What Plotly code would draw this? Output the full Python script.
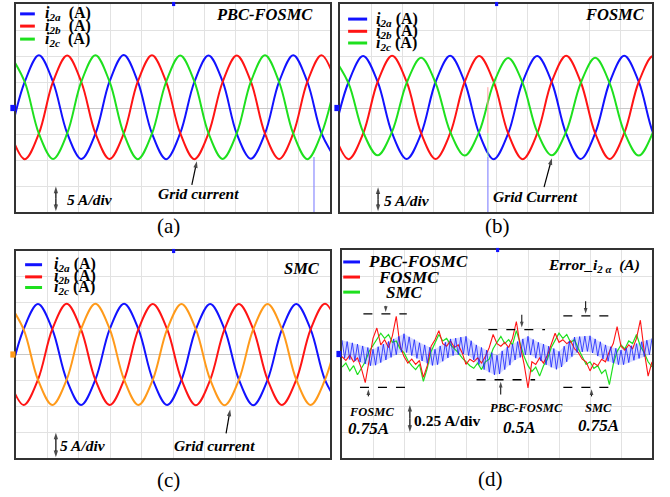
import numpy as np
import plotly.graph_objects as go

FONT = "Liberation Serif, Times New Roman, serif"
BLUE = "#1212ff"
RED = "#ff1414"
GREEN = "#1ee01e"
ORANGE = "#ff9a1a"

# ---------------- data (units: screen divisions) ----------------
# (a) PBC-FOSMC grid currents, 5 A/div
a_t_start, a_t_step = -0.17, 0.45
a_i2a = [-0.98, 1.01, 2.03, 1.00, -0.97, -1.96, -0.99, 1.02, 2.04, 1.01, -0.98, -1.97,
         -0.97, 1.00, 2.02, 1.02, -0.99, -1.95, -0.98, 1.01, 2.03, 1.00, -0.98, -1.96]
a_i2b = [-0.99, -1.97, -0.98, 1.01, 2.02, 1.00, -0.98, -1.96, -0.99, 1.02, 2.03, 1.01,
         -0.97, -1.97, -0.98, 1.00, 2.02, 1.01, -0.99, -1.96, -0.98, 1.01, 2.03, 1.00]
a_i2c = [2.02, 1.00, -0.99, -1.96, -0.98, 1.01, 2.03, 1.01, -0.98, -1.97, -0.99, 1.00,
         2.02, 1.02, -0.97, -1.96, -0.98, 1.01, 2.03, 1.00, -0.99, -1.97, -0.98, 1.01]

# (b) FOSMC grid currents, 5 A/div
b_t_start, b_t_step = -0.19, 0.465
b_i2a = [-0.98, 1.00, 2.00, 1.01, -0.97, -1.96, -0.99, 1.00, 2.01, 1.00, -0.98, -1.97,
         -0.98, 1.01, 2.00, 1.00, -0.99, -1.96, -0.97, 1.00, 2.01, 1.01, -0.98, -1.97]
b_i2b = [-0.98, -1.97, -0.99, 1.00, 2.01, 1.01, -0.97, -1.96, -0.98, 1.00, 2.00, 1.01,
         -0.98, -1.97, -0.99, 1.01, 2.01, 1.00, -0.98, -1.96, -0.97, 1.00, 2.00, 1.01]
b_i2c = [1.92, 0.95, -0.92, -1.82, -0.91, 0.96, 1.93, 0.96, -0.91, -1.83, -0.92, 0.95,
         1.92, 0.96, -0.92, -1.82, -0.91, 0.96, 1.93, 0.95, -0.92, -1.83, -0.91, 0.96]

# (c) SMC grid currents, 5 A/div
c_t_start, c_t_step = -0.214, 0.457
c_i2a = [-0.97, 0.98, 1.95, 0.97, -0.98, -1.95, -0.97, 0.98, 1.96, 0.98, -0.97, -1.95,
         -0.98, 0.97, 1.95, 0.98, -0.97, -1.96, -0.98, 0.97, 1.95, 0.97, -0.98, -1.95]
c_i2b = [-0.98, -1.95, -0.97, 0.98, 1.96, 0.97, -0.98, -1.95, -0.97, 0.98, 1.95, 0.98,
         -0.97, -1.96, -0.98, 0.97, 1.95, 0.98, -0.97, -1.95, -0.98, 0.97, 1.96, 0.98]
c_i2c = [1.95, 0.97, -0.98, -1.95, -0.97, 0.98, 1.96, 0.98, -0.97, -1.95, -0.98, 0.97,
         1.95, 0.98, -0.97, -1.96, -0.98, 0.97, 1.95, 0.98, -0.97, -1.95, -0.98, 0.97]

# (d) current error i2alpha, 0.25 A/div
d_blue_err = [0.53, -0.16, 0.48, -0.21, 0.43, -0.26, 0.38, -0.31, 0.31, -0.38, 0.25, -0.45,
              0.18, -0.43, 0.28, -0.33, 0.38, -0.23, 0.48, -0.13, 0.58, -0.03, 0.68, 0.07,
              0.78, 0.06, 0.66, -0.06, 0.55, -0.17, 0.43, -0.27, 0.35, -0.36, 0.26, -0.44,
              0.18, -0.41, 0.31, -0.28, 0.45, -0.15, 0.58, -0.06, 0.61, -0.03, 0.65, 0.00,
              0.68, -0.06, 0.51, -0.23, 0.35, -0.40, 0.25, -0.60, 0.15, -0.70, 0.05, -0.80,
              -0.05, -0.77, 0.12, -0.60, 0.28, -0.43, 0.38, -0.23, 0.48, -0.13, 0.58, -0.03,
              0.68, -0.04, 0.56, -0.16, 0.45, -0.27, 0.38, -0.42, 0.30, -0.51, 0.21, -0.59,
              0.10, -0.50, 0.30, -0.30, 0.50, -0.10, 0.65, 0.06, 0.67, 0.08, 0.69, 0.10,
              0.70, 0.04, 0.58, -0.08, 0.47, -0.19, 0.35, -0.28, 0.28, -0.35, 0.22, -0.41,
              0.15, -0.41, 0.23, -0.33, 0.32, -0.24, 0.40, -0.17, 0.47, -0.10, 0.53, -0.03,
              0.60]
d_red_err = [-0.10, -0.25, -0.05, -0.30, -0.15, -0.55, -1.10, -0.20, 0.60, 1.00, 0.35, 0.55,
             0.25, 0.70, 1.45, 0.30, -0.10, -0.35, -0.20, -0.40, -0.25, -0.90, -0.45, 0.30,
             0.55, 0.90, 0.40, 0.30, 0.50, 0.25, 0.35, 0.05, -0.40, -0.20, -0.30, -0.15,
             -0.35, -0.10, 0.25, 0.75, 0.40, 0.30, 0.45, 0.25, 0.60, 1.25, 0.30, -0.40,
             -1.30, -0.30, -0.40, -0.15, -0.35, -0.05, 0.35, 0.80, 0.45, 0.55, 0.40, 0.50,
             0.20, 0.05, -0.20, -0.30, -0.65, -0.35, -0.45, -0.20, -0.30, 0.10, 0.40, 1.05,
             0.30, 0.15, 0.35, 0.20, 0.60, 1.30, 0.10, -0.85, -0.30]
d_green_err = [-0.50, -0.35, -0.65, -0.45, -0.80, -0.55, -0.30, 0.10, 0.35, 0.55, 0.80, 0.60,
               0.75, 0.45, 0.50, 0.20, 0.05, -0.25, -0.45, -0.60, -0.40, -1.05, -0.55, 0.10,
               0.45, 0.75, 0.50, 0.60, 0.35, 0.20, 0.05, -0.15, -0.30, -0.45, -0.55, -0.35,
               -0.60, -0.30, -0.20, 0.20, 0.45, 0.68, 0.40, 0.55, 0.35, 0.90, 0.40, -0.10,
               -0.45, -0.67, -0.50, -0.85, -0.45, -0.20, 0.25, 0.55, 0.80, 0.60, 0.75, 0.45,
               0.55, 0.20, -0.10, -0.40, -0.30, -0.55, -0.45, -0.75, -0.60, -1.18, -0.40, 0.10,
               0.35, 0.20, 0.50, 0.40, 0.75, 0.30, 0.05, -0.30, -0.50]

legend_abc = ["i2a", "i2b", "i2c"]
legend_d = ["PBC-FOSMC", "FOSMC", "SMC"]

# ---------------- figure ----------------
fig = go.Figure()
W, H = 670, 497
domains = {
    1: ([16 / W, 330 / W], [1 - 212 / H, 1 - 4 / H]),
    2: ([340 / W, 652 / W], [1 - 212 / H, 1 - 4 / H]),
    3: ([16 / W, 330 / W], [1 - 458 / H, 1 - 251 / H]),
    4: ([342 / W, 652 / W], [1 - 458 / H, 1 - 250 / H]),
}


def refs(p):
    return ("x", "y") if p == 1 else (f"x{p}", f"y{p}")


layout_axes = {}
for p, (dx, dy) in domains.items():
    xr, yr = refs(p)
    xk = "xaxis" if p == 1 else f"xaxis{p}"
    yk = "yaxis" if p == 1 else f"yaxis{p}"
    common = dict(showgrid=True, gridcolor="#e2e2e2", gridwidth=1, dtick=1, tick0=0,
                  showticklabels=False, ticks="", zeroline=True, zerolinecolor="#c9c9c9",
                  zerolinewidth=1, showline=True, mirror=True, linecolor="#333333",
                  linewidth=1.5, fixedrange=True)
    layout_axes[xk] = dict(domain=dx, range=[0, 10], anchor=yr, **common)
    layout_axes[yk] = dict(domain=dy, range=[-4, 4], anchor=xr, **common)


def add_wave(p, t_start, t_step, vals, color, width=2.0):
    xr, yr = refs(p)
    t = t_start + t_step * np.arange(len(vals))
    fig.add_trace(go.Scatter(x=t, y=vals, mode="lines",
                             line=dict(color=color, width=width, shape="spline", smoothing=1.0),
                             xaxis=xr, yaxis=yr, hoverinfo="skip"))


add_wave(1, a_t_start, a_t_step, a_i2a, BLUE)
add_wave(1, a_t_start, a_t_step, a_i2b, RED)
add_wave(1, a_t_start, a_t_step, a_i2c, GREEN)
add_wave(2, b_t_start, b_t_step, b_i2a, BLUE)
add_wave(2, b_t_start, b_t_step, b_i2b, RED)
add_wave(2, b_t_start, b_t_step, b_i2c, GREEN)
add_wave(3, c_t_start, c_t_step, c_i2a, BLUE)
add_wave(3, c_t_start, c_t_step, c_i2b, RED)
add_wave(3, c_t_start, c_t_step, c_i2c, ORANGE)

# panel d
xb = np.linspace(0, 10, len(d_blue_err))
xrg = np.linspace(0, 10, len(d_red_err))
fig.add_trace(go.Scatter(x=xb[1::2], y=d_blue_err[1::2], mode="lines", line=dict(width=0),
                         xaxis="x4", yaxis="y4", hoverinfo="skip"))
fig.add_trace(go.Scatter(x=xb[0::2], y=d_blue_err[0::2], mode="lines", line=dict(width=0),
                         fill="tonexty", fillcolor="rgba(120,130,255,0.30)",
                         xaxis="x4", yaxis="y4", hoverinfo="skip"))
fig.add_trace(go.Scatter(x=xrg, y=d_green_err, mode="lines", line=dict(color=GREEN, width=1.2),
                         xaxis="x4", yaxis="y4", hoverinfo="skip"))
fig.add_trace(go.Scatter(x=xrg, y=d_red_err, mode="lines", line=dict(color=RED, width=1.1),
                         xaxis="x4", yaxis="y4", hoverinfo="skip"))
fig.add_trace(go.Scatter(x=xb, y=d_blue_err, mode="lines", line=dict(color="rgba(25,35,255,0.8)", width=1.0),
                         xaxis="x4", yaxis="y4", hoverinfo="skip"))

annotations = []
shapes = []


def text(p, x, y, s, size, xanchor="left", yanchor="middle"):
    xr, yr = refs(p)
    annotations.append(dict(xref=xr, yref=yr, x=x, y=y, text=s, showarrow=False,
                            xanchor=xanchor, yanchor=yanchor,
                            font=dict(family=FONT, size=size, color="black")))


def arrow(p, tx, ty, hx, hy, width=1.2, size=7):
    xr, yr = refs(p)
    fig.add_trace(go.Scatter(x=[tx, hx], y=[ty, hy], mode="lines+markers",
                             line=dict(color="black", width=width),
                             marker=dict(symbol="arrow", size=[0, size],
                                         angleref="previous", color="black", line=dict(width=0)),
                             xaxis=xr, yaxis=yr, hoverinfo="skip"))


def double_arrow(p, x, y_top, y_bot, width=1.2, size=7):
    mid = (y_top + y_bot) / 2
    arrow(p, x, mid, x, y_top, width, size)
    arrow(p, x, mid, x, y_bot, width, size)


def seg(p, x0, y0, x1, y1, color, width=2.5, dash=None):
    xr, yr = refs(p)
    ln = dict(color=color, width=width)
    if dash:
        ln["dash"] = dash
    shapes.append(dict(type="line", xref=xr, yref=yr, x0=x0, y0=y0, x1=x1, y1=y1, line=ln))


def legend_label(name, gap=" "):
    return f"<b><i>i</i><sub><i>{name[1:]}</i></sub>{gap}(A)</b>"


# legends a, b, c
for p, lx0, lx1, ys, tx, gap in [
    (1, 0.13, 0.60, [3.62, 3.15, 2.65], 0.85, "\u00a0\u00a0"),
    (2, 0.26, 0.87, [3.42, 2.95, 2.50], 1.08, " "),
    (3, 0.29, 0.83, [3.47, 3.00, 2.59], 1.15, " "),
]:
    for name, yy, col in zip(legend_abc, ys, [BLUE, RED, GREEN]):
        seg(p, lx0, yy, lx1, yy, col, width=3)
        text(p, tx, yy, legend_label(name, gap), 16)

# legend d
for name, yy, col, tx in zip(legend_d, [3.54, 2.96, 2.38], [BLUE, RED, GREEN], [0.78, 1.10, 1.36]):
    seg(4, 0.04, yy, 0.58, yy, col, width=3)
    text(4, tx, yy, f"<b><i>{name}</i></b>", 17)

# titles
text(1, 9.52, 3.58, "<b><i>PBC-FOSMC</i></b>", 16.5, xanchor="right")
text(2, 9.84, 3.58, "<b><i>FOSMC</i></b>", 16.5, xanchor="right")
text(3, 9.74, 3.32, "<b><i>SMC</i></b>", 16.5, xanchor="right")
text(4, 9.68, 3.42, "<b><i>Error_i</i><sub><i>2 α</i></sub><i>  (A)</i></b>", 15.5, xanchor="right")

# scale markers
double_arrow(1, 1.27, -3.02, -3.97)
text(1, 1.55, -3.52, "<b><i>5 A/div</i></b>", 15.5)
double_arrow(2, 1.22, -3.05, -3.97)
text(2, 1.33, -3.54, "<b><i>5 A/div</i></b>", 15.5)
double_arrow(3, 1.27, -3.02, -3.97)
text(3, 1.33, -3.50, "<b><i>5 A/div</i></b>", 15.5)
double_arrow(4, 2.19, -1.96, -3.0)
text(4, 2.25, -2.54, "<b>0.25 A/div</b>", 15.5)

# grid current labels
text(1, 5.80, -3.27, "<b><i>Grid current</i></b>", 15.5, xanchor="center")
arrow(1, 5.60, -2.96, 5.76, -2.05)
text(2, 6.28, -3.42, "<b><i>Grid Current</i></b>", 15.5, xanchor="center")
arrow(2, 6.54, -3.04, 6.79, -1.93)
text(3, 6.32, -3.51, "<b><i>Grid current</i></b>", 15.5, xanchor="center")
arrow(3, 6.69, -3.05, 6.82, -2.13)

# cursors
seg(1, 9.49, -1.88, 9.49, -4.0, "#8c8cff", width=1.2)
seg(2, 4.74, 0.80, 4.74, -0.97, "#ff9a9a", width=1.0)
seg(2, 4.74, -0.97, 4.74, -1.88, "#9aef9a", width=1.0)
seg(2, 4.74, -1.88, 4.74, -4.0, "#8c8cff", width=1.2)

# panel d dashed levels and arrows
for x0, x1, yy in [(0.69, 2.09, 1.54), (0.58, 2.25, -1.28), (4.72, 6.55, 0.94),
                   (4.34, 6.23, -0.99), (7.14, 8.70, 1.47), (7.14, 8.81, -1.28)]:
    seg(4, x0, yy, x1, yy, "black", width=1.3, dash="dash")
arrow(4, 1.41, 1.85, 1.41, 1.62, width=1.0, size=6)
arrow(4, 5.80, 1.51, 5.80, 1.02, width=1.0, size=6)
arrow(4, 7.86, 2.03, 7.86, 1.55, width=1.0, size=6)
arrow(4, 0.85, -1.63, 0.85, -1.36, width=1.0, size=6)
arrow(4, 5.12, -1.56, 5.12, -1.07, width=1.0, size=6)
arrow(4, 8.05, -1.63, 8.05, -1.36, width=1.0, size=6)

text(4, 0.94, -2.23, "<b><i>FOSMC</i></b>", 12.5, xanchor="center")
text(4, 0.84, -2.85, "<b><i>0.75A</i></b>", 17, xanchor="center")
text(4, 5.94, -2.08, "<b><i>PBC-FOSMC</i></b>", 12.5, xanchor="center")
text(4, 5.71, -2.81, "<b><i>0.5A</i></b>", 17, xanchor="center")
text(4, 8.26, -2.08, "<b><i>SMC</i></b>", 12.5, xanchor="center")
text(4, 8.26, -2.75, "<b><i>0.75A</i></b>", 17, xanchor="center")

# sub-figure labels
for lab, px, py in [("(a)", 168, 226), ("(b)", 497, 226), ("(c)", 168, 480), ("(d)", 490, 479)]:
    annotations.append(dict(xref="paper", yref="paper", x=px / W, y=1 - py / H, text=lab,
                            showarrow=False, xanchor="center", yanchor="middle",
                            font=dict(family=FONT, size=21, color="black")))

# small scope channel markers
for p, col in [(1, BLUE), (2, BLUE), (3, ORANGE), (4, BLUE)]:
    xr, yr = refs(p)
    shapes.append(dict(type="rect", xref=f"{xr} domain", yref=yr, x0=-0.018, x1=-0.002,
                       y0=-0.12, y1=0.12, fillcolor=col, line=dict(width=0)))
    shapes.append(dict(type="rect", xref=f"{xr} domain", yref=f"{yr} domain", x0=0.497, x1=0.507,
                       y0=0.99, y1=1.01, fillcolor=BLUE, line=dict(width=0)))

fig.update_layout(width=W, height=H, margin=dict(l=0, r=0, t=0, b=0),
                  plot_bgcolor="white", paper_bgcolor="white", showlegend=False,
                  annotations=annotations, shapes=shapes, **layout_axes)

fig.write_html("out.html", config={"displayModeBar": False},
               post_script="document.body.style.margin='0px';")
